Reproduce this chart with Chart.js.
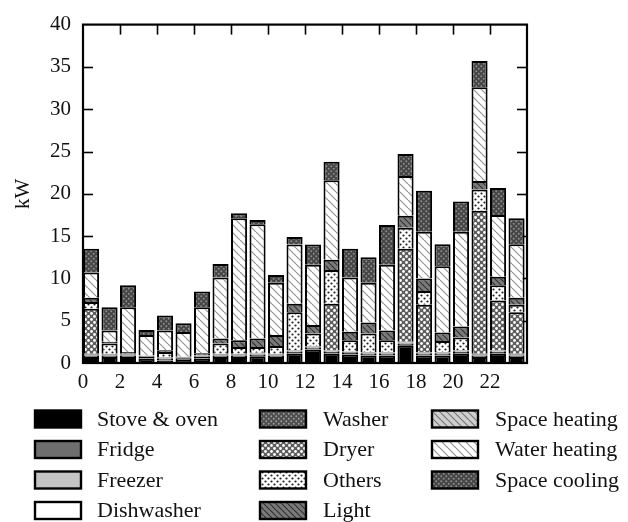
<!DOCTYPE html>
<html>
<head>
<meta charset="utf-8">
<script src="https://cdn.jsdelivr.net/npm/chart.js@4/dist/chart.umd.min.js"></script>
<style>
  html, body { margin: 0; padding: 0; background: #fff; }
  canvas { display: block; }
</style>
</head>
<body>
<canvas id="c" width="628" height="522"></canvas>
<script>
// Hourly household load by appliance (kW)
const hours = [0,1,2,3,4,5,6,7,8,9,10,11,12,13,14,15,16,17,18,19,20,21,22,23];
const xTickValues = [0,2,4,6,8,10,12,14,16,18,20,22];
const yTickValues = [0,5,10,15,20,25,30,35,40];

const stove        = [0.7,0.7,0.7,0.5,0.3,0.35,0.5,0.7,0.7,0.8,0.7,1.1,1.6,1.1,1.0,0.9,0.9,2.1,0.9,0.9,1.1,0.7,1.1,0.7];
const fridge       = [0.2,0.2,0.2,0.2,0.2,0.2,0.2,0.2,0.2,0.2,0.2,0.2,0.2,0.2,0.2,0.2,0.2,0.2,0.2,0.2,0.2,0.2,0.2,0.2];
const freezer      = [0.1,0.1,0.1,0.1,0.1,0.1,0.1,0.1,0.1,0.1,0.1,0.1,0.1,0.1,0.1,0.1,0.1,0.1,0.1,0.1,0.1,0.1,0.1,0.1];
const dishwasher   = [0.05,0.05,0.05,0.05,0.05,0.05,0.05,0.05,0.05,0.05,0.05,0.05,0.05,0.05,0.05,0.05,0.05,0.05,0.05,0.05,0.05,0.05,0.05,0.05];
const washer       = [0.05,0.05,0.05,0.05,0.05,0.05,0.05,0.05,0.05,0.05,0.05,0.05,0.05,0.05,0.05,0.05,0.05,0.05,0.05,0.05,0.05,0.05,0.05,0.05];
const dryer        = [5.3,0,0,0,0,0,0,0,0,0,0,0,0,5.5,0,0,0,11.0,5.6,0,0,16.9,5.9,4.9];
const others       = [0.8,1.2,0,0,0.6,0,0,1.2,0.8,0.7,0.9,4.5,1.5,4.0,1.3,2.2,1.4,2.5,1.6,1.3,1.5,2.5,1.8,0.9];
const light        = [0.5,0.2,0.2,0,0.2,0,0.25,0.6,0.8,1.0,1.3,1.0,1.0,1.2,1.0,1.3,1.15,1.4,1.5,1.0,1.3,1.0,1.0,0.8];
const spaceHeating = [0,0,0,0,0,0,0,0,0,0,0,0,0,0,0,0,0,0,0,0,0,0,0,0];
const waterHeating = [3.0,1.35,5.3,2.4,2.35,2.9,5.45,7.2,14.4,13.5,6.2,7.0,7.1,9.4,6.4,4.7,7.75,4.7,5.5,7.85,11.2,11.1,7.3,6.35];
const spaceCooling = [2.8,2.75,2.6,0.6,1.75,1.05,1.85,1.6,0.6,0.5,0.9,0.9,2.4,2.2,3.4,3.0,4.7,2.6,4.85,2.6,3.6,3.1,3.2,3.05];

const FONT = '"Liberation Serif", "Times New Roman", serif';
const canvas = document.getElementById('c');
const ctx = canvas.getContext('2d');

// --- fill patterns -------------------------------------------------------
function tile(size, bg, draw) {
  const t = document.createElement('canvas');
  t.width = size; t.height = size;
  const g = t.getContext('2d');
  g.fillStyle = bg;
  g.fillRect(0, 0, size, size);
  if (draw) draw(g, size);
  return ctx.createPattern(t, 'repeat');
}
function dotFill(color, r) {
  return (g, s) => {
    g.fillStyle = color;
    [[s / 4, s / 4], [3 * s / 4, 3 * s / 4]].forEach(([x, y]) => {
      g.beginPath(); g.arc(x, y, r, 0, Math.PI * 2); g.fill();
    });
  };
}
function hatchFill(color, w) {
  return (g, s) => {
    g.strokeStyle = color; g.lineWidth = w;
    [-s, 0, s].forEach(k => {
      g.beginPath(); g.moveTo(k, 0); g.lineTo(k + s, s); g.stroke();
    });
  };
}

const series = [
  { label: 'Stove & oven',  data: stove,        fill: '#000000' },
  { label: 'Fridge',        data: fridge,       fill: '#6e6e6e' },
  { label: 'Freezer',       data: freezer,      fill: '#c4c4c4' },
  { label: 'Dishwasher',    data: dishwasher,   fill: '#ffffff' },
  { label: 'Washer',        data: washer,       fill: tile(5, '#4e4e4e', dotFill('#a0a0a0', 0.9)) },
  { label: 'Dryer',         data: dryer,        fill: tile(6, '#5e5e5e', dotFill('#ffffff', 1.4)) },
  { label: 'Others',        data: others,       fill: tile(6, '#ffffff', dotFill('#222222', 1.1)) },
  { label: 'Light',         data: light,        fill: tile(6, '#7a7a7a', hatchFill('#333333', 1.2)) },
  { label: 'Space heating', data: spaceHeating, fill: tile(7, '#cfcfcf', hatchFill('#777777', 1.2)) },
  { label: 'Water heating', data: waterHeating, fill: tile(8, '#ffffff', hatchFill('#959595', 1.2)) },
  { label: 'Space cooling', data: spaceCooling, fill: tile(5, '#454545', dotFill('#8c8c8c', 1.0)) }
];

// bars sit in [h, h+0.87] of each hour slot
const datasets = series.map(s => ({
  label: s.label,
  data: hours.map((h, i) => ({ x: h + 0.435, y: s.data[i] === 0 ? null : s.data[i] })),
  backgroundColor: s.fill,
  borderColor: '#000',
  borderWidth: 2,
  borderSkipped: 'start',
  categoryPercentage: 1.0,
  barPercentage: 0.87
}));

// --- frame, inward tick marks ---------------------------------------------
const framePlugin = {
  id: 'frame',
  beforeDatasetsDraw(chart) {
    const { ctx, chartArea: a, scales: { x, y } } = chart;
    ctx.save();
    ctx.strokeStyle = '#000';
    ctx.lineWidth = 1.6;
    const len = 10;
    xTickValues.forEach(v => {
      if (v === 0) return;
      const px = Math.round(x.getPixelForValue(v)) + 0.5;
      ctx.beginPath(); ctx.moveTo(px, a.top); ctx.lineTo(px, a.top + len); ctx.stroke();
    });
    yTickValues.forEach(v => {
      if (v === 0 || v === 40) return;
      const py = Math.round(y.getPixelForValue(v)) + 0.5;
      ctx.beginPath(); ctx.moveTo(a.left, py); ctx.lineTo(a.left + len, py); ctx.stroke();
      ctx.beginPath(); ctx.moveTo(a.right, py); ctx.lineTo(a.right - len, py); ctx.stroke();
    });
    ctx.restore();
  },
  afterDatasetsDraw(chart) {
    const { ctx, chartArea: a } = chart;
    ctx.save();
    ctx.strokeStyle = '#000';
    ctx.lineWidth = 2.2;
    ctx.strokeRect(a.left, a.top, a.right - a.left, a.bottom - a.top);
    ctx.restore();
  }
};

// --- three-column legend below the plot ---------------------------------
const legendPlugin = {
  id: 'gridLegend',
  afterDraw(chart) {
    const { ctx } = chart;
    const boxX = [35, 260, 432];
    const textX = [97, 323, 495];
    const rowY = [419, 449.5, 480, 510.5];
    ctx.save();
    ctx.font = '22px ' + FONT;
    ctx.textBaseline = 'middle';
    chart.data.datasets.forEach((ds, i) => {
      const col = Math.floor(i / 4), row = i % 4;
      const bx = boxX[col], by = rowY[row] - 8.5;
      ctx.fillStyle = ds.backgroundColor;
      ctx.fillRect(bx, by, 46, 17);
      ctx.strokeStyle = '#000';
      ctx.lineWidth = 2.4;
      ctx.strokeRect(bx, by, 46, 17);
      ctx.fillStyle = '#111';
      ctx.fillText(ds.label, textX[col], rowY[row] + 1);
    });
    ctx.restore();
  }
};

new Chart(ctx, {
  type: 'bar',
  data: { datasets },
  plugins: [framePlugin, legendPlugin],
  options: {
    responsive: false,
    devicePixelRatio: 1,
    animation: false,
    layout: { padding: { left: 0, top: 20, right: 101, bottom: 129 } },
    plugins: { legend: { display: false }, tooltip: { enabled: false } },
    scales: {
      x: {
        type: 'linear',
        stacked: true,
        offset: false,
        min: 0,
        max: 24,
        afterBuildTicks: s => { s.ticks = xTickValues.map(v => ({ value: v })); },
        afterFit: s => { s.height = 30; },
        grid: { display: false, drawTicks: false },
        border: { display: false },
        ticks: { padding: 7, color: '#111', font: { family: FONT, size: 21 }, maxRotation: 0, autoSkip: false }
      },
      y: {
        stacked: true,
        min: 0,
        max: 40,
        afterBuildTicks: s => { s.ticks = yTickValues.map(v => ({ value: v })); },
        afterFit: s => { s.width = 83; },
        grid: { display: false, drawTicks: false },
        border: { display: false },
        ticks: { padding: 12, color: '#111', font: { family: FONT, size: 21 } },
        title: { display: true, text: 'kW', color: '#111', font: { family: FONT, size: 21 }, padding: { top: 11, bottom: 0 } }
      }
    }
  }
});
</script>
</body>
</html>
